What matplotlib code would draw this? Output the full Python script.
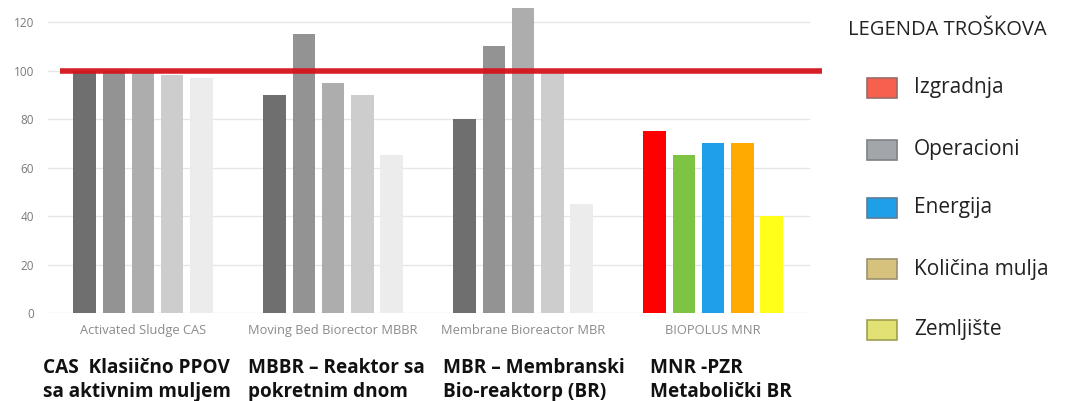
import matplotlib
matplotlib.use("Agg")
import matplotlib.pyplot as plt
import numpy as np
from matplotlib.patches import Rectangle

plt.rcParams['font.family'] = ['Open Sans', 'DejaVu Sans']

categories = ["Activated Sludge CAS", "Moving Bed Biorector MBBR",
              "Membrane Bioreactor MBR", "BIOPOLUS MNR"]
descriptions = ["CAS  Klasiično PPOV\nsa aktivnim muljem",
                "MBBR – Reaktor sa\npokretnim dnom",
                "MBR – Membranski\nBio-reaktorp (BR)",
                "MNR -PZR\nMetabolički BR"]
# five cost components per technology
cas = [100, 100, 99, 98, 97]
mbbr = [90, 115, 95, 90, 65]
mbr = [80, 110, 130, 99, 45]
mnr = [75, 65, 70, 70, 40]
reference_level = 100
legend_title = "LEGENDA TROŠKOVA"
legend_labels = ["Izgradnja", "Operacioni", "Energija", "Količina mulja", "Zemljište"]
yticks = [0, 20, 40, 60, 80, 100, 120]

gray_colors = ["#6f6f6f", "#939393", "#adadad", "#cdcdcd", "#ececec"]
mnr_colors = ["#ff0000", "#7cc442", "#1f9fe8", "#ffaa00", "#ffff1a"]
legend_colors = ["#f6604f", "#a2a6aa", "#1f9fe8", "#d6c27c", "#e2e274"]
legend_edges = ["#9a6a66", "#7d8288", "#5a7f98", "#9c9070", "#9da04e"]

series = [cas, mbbr, mbr, mnr]

fig = plt.figure(figsize=(10.72, 4.01), dpi=100)
ax = fig.add_axes([48/1072, 1-313/401, (810-48)/1072, (313-8)/401])

pitch = 0.154
width = 0.118
x = np.arange(len(categories))
for gi, vals in enumerate(series):
    cols = mnr_colors if gi == 3 else gray_colors
    for bi, v in enumerate(vals):
        ax.bar(x[gi] + (bi - 2) * pitch, v, width=width, color=cols[bi], zorder=2)

ax.set_xlim(-0.5, 3.51)
ax.set_ylim(0, 125.8)
ax.set_yticks(yticks)
ax.set_yticklabels([str(t) for t in yticks], fontsize=8.5, color="#7a7a7a")
ax.tick_params(axis='y', length=0, pad=10)
ax.set_xticks(x)
ax.set_xticklabels(categories, fontsize=9.3, color="#8a8a8a")
ax.tick_params(axis='x', length=0, pad=8)
ax.grid(axis='y', color="#e6e6e6", linewidth=1, zorder=0)
for s in ax.spines.values():
    s.set_visible(False)

# reference line at 100
ax.plot([-0.437, 3.574], [reference_level, reference_level], color="#d4141c",
        linewidth=4, solid_capstyle='butt', zorder=3, clip_on=False, alpha=0.95)

# bold descriptions
desc_x = [43, 248, 443, 650]
for dx, txt in zip(desc_x, descriptions):
    fig.text(dx/1072, 1-358/401, txt, fontsize=13.7, fontweight='bold',
             va='top', ha='left', color="#111111", linespacing=1.25)

# legend
fig.text(848/1072, 1-30/401, legend_title, fontsize=14.5, va='center', ha='left',
         color="#222222")
leg_y = [88, 150, 208, 269, 330]
for ly, lab, c, ec in zip(leg_y, legend_labels, legend_colors, legend_edges):
    fig.patches.append(Rectangle((867/1072, 1-(ly+10)/401), 30/1072, 20/401,
                                 transform=fig.transFigure, facecolor=c,
                                 edgecolor=ec, linewidth=1.2))
    fig.text(914/1072, 1-ly/401, lab, fontsize=15, va='center', ha='left',
             color="#222222")

fig.savefig("out.png", dpi=100)
